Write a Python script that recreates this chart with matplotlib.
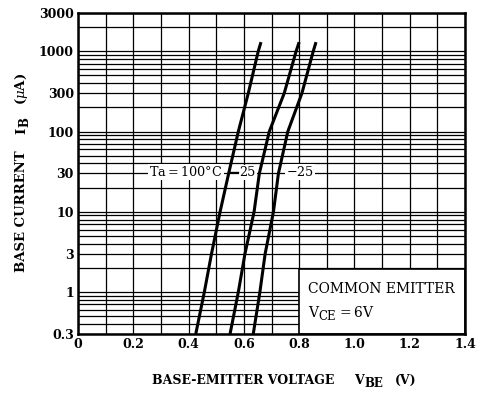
import numpy as np
import matplotlib
matplotlib.use('Agg')
import matplotlib.pyplot as plt
from matplotlib.ticker import LogLocator, MultipleLocator, FixedLocator, NullFormatter
from matplotlib.patches import Rectangle
from matplotlib.transforms import IdentityTransform

plt.rcParams['font.family'] = ['DejaVu Serif']
plt.rcParams['mathtext.fontset'] = 'dejavuserif'

# base current (uA) points
ib = [0.3, 1, 3, 10, 30, 100, 300, 1000, 1300]
# base-emitter voltage (V) for each temperature
vbe_100 = [0.426, 0.457, 0.483, 0.514, 0.545, 0.580, 0.616, 0.652, 0.662]
vbe_25 = [0.550, 0.580, 0.604, 0.637, 0.656, 0.692, 0.746, 0.789, 0.800]
vbe_m25 = [0.634, 0.658, 0.677, 0.707, 0.725, 0.759, 0.810, 0.851, 0.861]

yticks = [0.3, 1, 3, 10, 30, 100, 300, 1000, 3000]
ylabels = ['0.3', '1', '3', '10', '30', '100', '300', '1000', '3000']
xticks = [0, 0.2, 0.4, 0.6, 0.8, 1.0, 1.2, 1.4]
xlabels = ['0', '0.2', '0.4', '0.6', '0.8', '1.0', '1.2', '1.4']

fig = plt.figure(figsize=(4.85, 3.95), dpi=100)
ax = fig.add_axes([78/485, 1-334/395, 387/485, 321/395])
ax.set_yscale('log')
ax.set_xlim(0, 1.4)
ax.set_ylim(0.3, 3000)

ax.xaxis.set_major_locator(FixedLocator(xticks))
ax.set_xticklabels(xlabels)
ax.xaxis.set_minor_locator(MultipleLocator(0.1))
ax.yaxis.set_major_locator(FixedLocator(yticks))
ax.set_yticklabels(ylabels)
ax.yaxis.set_minor_locator(LogLocator(base=10, subs=np.arange(2, 10)))
ax.yaxis.set_minor_formatter(NullFormatter())
ax.tick_params(which='both', length=0, labelsize=9, pad=3)
for t in ax.get_xticklabels() + ax.get_yticklabels():
    t.set_fontweight('bold')
ax.grid(True, which='both', color='black', lw=0.9)
ax.set_axisbelow(True)
for s in ax.spines.values():
    s.set_linewidth(1.8)

for v in (vbe_100, vbe_25, vbe_m25):
    ax.plot(v, ib, color='black', lw=2.2, solid_capstyle='butt', zorder=3)

box = dict(facecolor='white', edgecolor='none', pad=0.6)
ax.text(0.258, 31, 'Ta$=$100°C', fontsize=9.2, va='center', ha='left', bbox=box, zorder=2.7)
ax.plot([0.546, 0.578], [31, 31], color='black', lw=1.0, zorder=2.8)
ax.text(0.584, 31, '25', fontsize=9.2, va='center', ha='left', bbox=box, zorder=2.7)
ax.text(0.752, 31, '$-$25', fontsize=9.2, va='center', ha='left', bbox=box, zorder=2.7)

ax.add_patch(Rectangle((0.8, 0.3), 0.6, 1.65, facecolor='white', edgecolor='black',
                       lw=1.2, zorder=2.5))

# text made of pieces so the subscripts stay large, positions in pixels
r = fig.canvas.get_renderer()


def chain(pieces, x, y, rot=0, weight='normal'):
    for s, size, drop, gap in pieces:
        if rot == 0:
            t = fig.text(x, y - drop, s, fontsize=size, fontweight=weight, ha='left',
                         va='baseline', transform=IdentityTransform(), zorder=5)
            x = t.get_window_extent(r).x1 + gap
        else:
            t = fig.text(x + drop, y, s, fontsize=size, fontweight=weight, ha='left',
                         va='baseline', rotation=90, rotation_mode='anchor',
                         transform=IdentityTransform(), zorder=5)
            y = t.get_window_extent(r).y1 + gap


H = 395
chain([('COMMON EMITTER', 10, 0, 0)], 308, H - 293)
chain([('V', 10, 0, 0), ('CE', 8.5, 2.5, 1), ('$=$6V', 10, 0, 0)], 308, H - 317)

chain([('BASE-EMITTER VOLTAGE', 9, 0, 20), ('V', 9, 0, 0), ('BE', 8.5, 3, 12),
       ('(V)', 9, 0, 0)], 152, H - 384, weight='bold')
chain([('BASE CURRENT', 9.5, 0, 16), ('I', 9.5, 0, 1), ('B', 8.5, 3, 12),
       (r'($\mu$A)', 9.5, 0, 0)], 25, H - 272, rot=90, weight='bold')

fig.savefig('out.png', dpi=100)
